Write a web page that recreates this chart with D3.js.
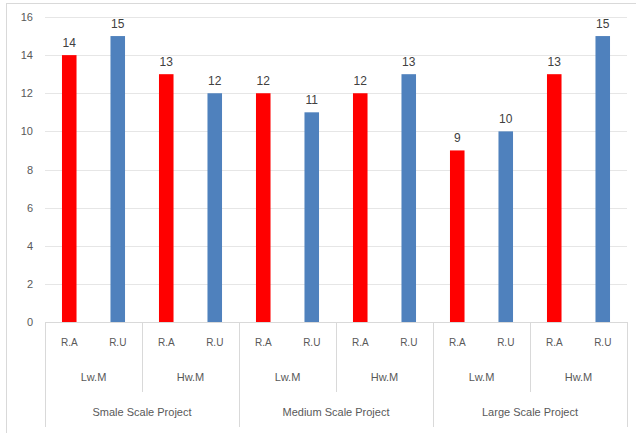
<!DOCTYPE html>
<html>
<head>
<meta charset="utf-8">
<script src="https://cdn.jsdelivr.net/npm/d3@7"></script>
<style>
  html, body { margin: 0; padding: 0; background: #fff; }
  svg { display: block; }
  text { font-family: "Liberation Sans", Arial, sans-serif; }
</style>
</head>
<body>
<svg id="chart" width="636" height="433"></svg>
<script>
// Three-tier category axis: project scale > method > measure
const projects = ["Smale Scale Project", "Medium Scale Project", "Large Scale Project"];
const methods = ["Lw.M", "Hw.M"];
const measures = ["R.A", "R.U"];
const values = [14, 15, 13, 12, 12, 11, 12, 13, 9, 10, 13, 15];
const yTicks = [0, 2, 4, 6, 8, 10, 12, 14, 16];
const colors = { "R.A": "#FF0000", "R.U": "#4F81BD" };

// Flatten the hierarchy into one leaf per bar
const leaves = [];
projects.forEach((p, pi) => methods.forEach((m, mi) => measures.forEach((s, si) => {
  const i = leaves.length;
  leaves.push({ id: i, project: p, method: m, measure: s, value: values[i] });
})));

const svg = d3.select("#chart");
const plot = { left: 45, right: 627, top: 17, bottom: 322 };

const x = d3.scaleBand().domain(leaves.map(d => d.id)).range([plot.left, plot.right]).paddingInner(0.7).paddingOuter(0.35);
const y = d3.scaleLinear().domain([0, 16]).range([plot.bottom, plot.top]);
const step = x.step();
const xStart = plot.left;

// Outer chart frame
svg.append("rect").attr("x", 6.5).attr("y", 3.5).attr("width", 640).attr("height", 440)
  .attr("fill", "none").attr("stroke", "#d9d9d9");

// Horizontal gridlines
svg.append("g").selectAll("line").data(yTicks.filter(t => t > 0)).join("line")
  .attr("x1", plot.left).attr("x2", plot.right)
  .attr("y1", d => Math.round(y(d)) + 0.5).attr("y2", d => Math.round(y(d)) + 0.5)
  .attr("stroke", "#e6e6e6");

// Y axis labels
const yAxis = d3.axisLeft(y).tickValues(yTicks).tickSize(0).tickPadding(12);
const ya = svg.append("g").attr("transform", `translate(${plot.left},0)`).call(yAxis);
ya.select(".domain").remove();
ya.selectAll("text").attr("fill", "#595959").style("font-size", "11px");

// Bars
svg.append("g").selectAll("rect").data(leaves).join("rect")
  .attr("x", d => x(d.id)).attr("width", x.bandwidth())
  .attr("y", d => y(d.value)).attr("height", d => y(0) - y(d.value))
  .attr("fill", d => colors[d.measure]);

// Value labels
svg.append("g").selectAll("text").data(leaves).join("text")
  .attr("x", d => x(d.id) + x.bandwidth() / 2).attr("y", d => y(d.value) - 8)
  .attr("text-anchor", "middle").attr("fill", "#404040").style("font-size", "12px")
  .text(d => d.value);

// Category axis baseline
const axisG = svg.append("g");
axisG.append("line").attr("x1", plot.left).attr("x2", plot.right)
  .attr("y1", plot.bottom + 0.5).attr("y2", plot.bottom + 0.5).attr("stroke", "#d9d9d9");

// Tier 1: measure labels
axisG.selectAll("text.t1").data(leaves).join("text").attr("class", "t1")
  .attr("x", d => x(d.id) + x.bandwidth() / 2).attr("y", 346)
  .attr("text-anchor", "middle").attr("fill", "#595959").style("font-size", "10px")
  .text(d => d.measure);

// Tier 2: method labels and separators
const methodGroups = [];
projects.forEach(p => methods.forEach(m => methodGroups.push({ project: p, method: m })));
axisG.selectAll("text.t2").data(methodGroups).join("text").attr("class", "t2")
  .attr("x", (d, i) => xStart + step * (2 * i + 1)).attr("y", 381)
  .attr("text-anchor", "middle").attr("fill", "#595959").style("font-size", "11px")
  .text(d => d.method);
axisG.selectAll("line.s2").data(d3.range(methodGroups.length + 1)).join("line").attr("class", "s2")
  .attr("x1", i => Math.round(xStart + step * 2 * i) + 0.5).attr("x2", i => Math.round(xStart + step * 2 * i) + 0.5)
  .attr("y1", plot.bottom).attr("y2", i => (i % 2 === 0 ? 427 : 392))
  .attr("stroke", "#d9d9d9");

// Tier 3: project labels
axisG.selectAll("text.t3").data(projects).join("text").attr("class", "t3")
  .attr("x", (d, i) => xStart + step * (4 * i + 2)).attr("y", 416)
  .attr("text-anchor", "middle").attr("fill", "#595959").style("font-size", "11px")
  .text(d => d);
</script>
</body>
</html>
